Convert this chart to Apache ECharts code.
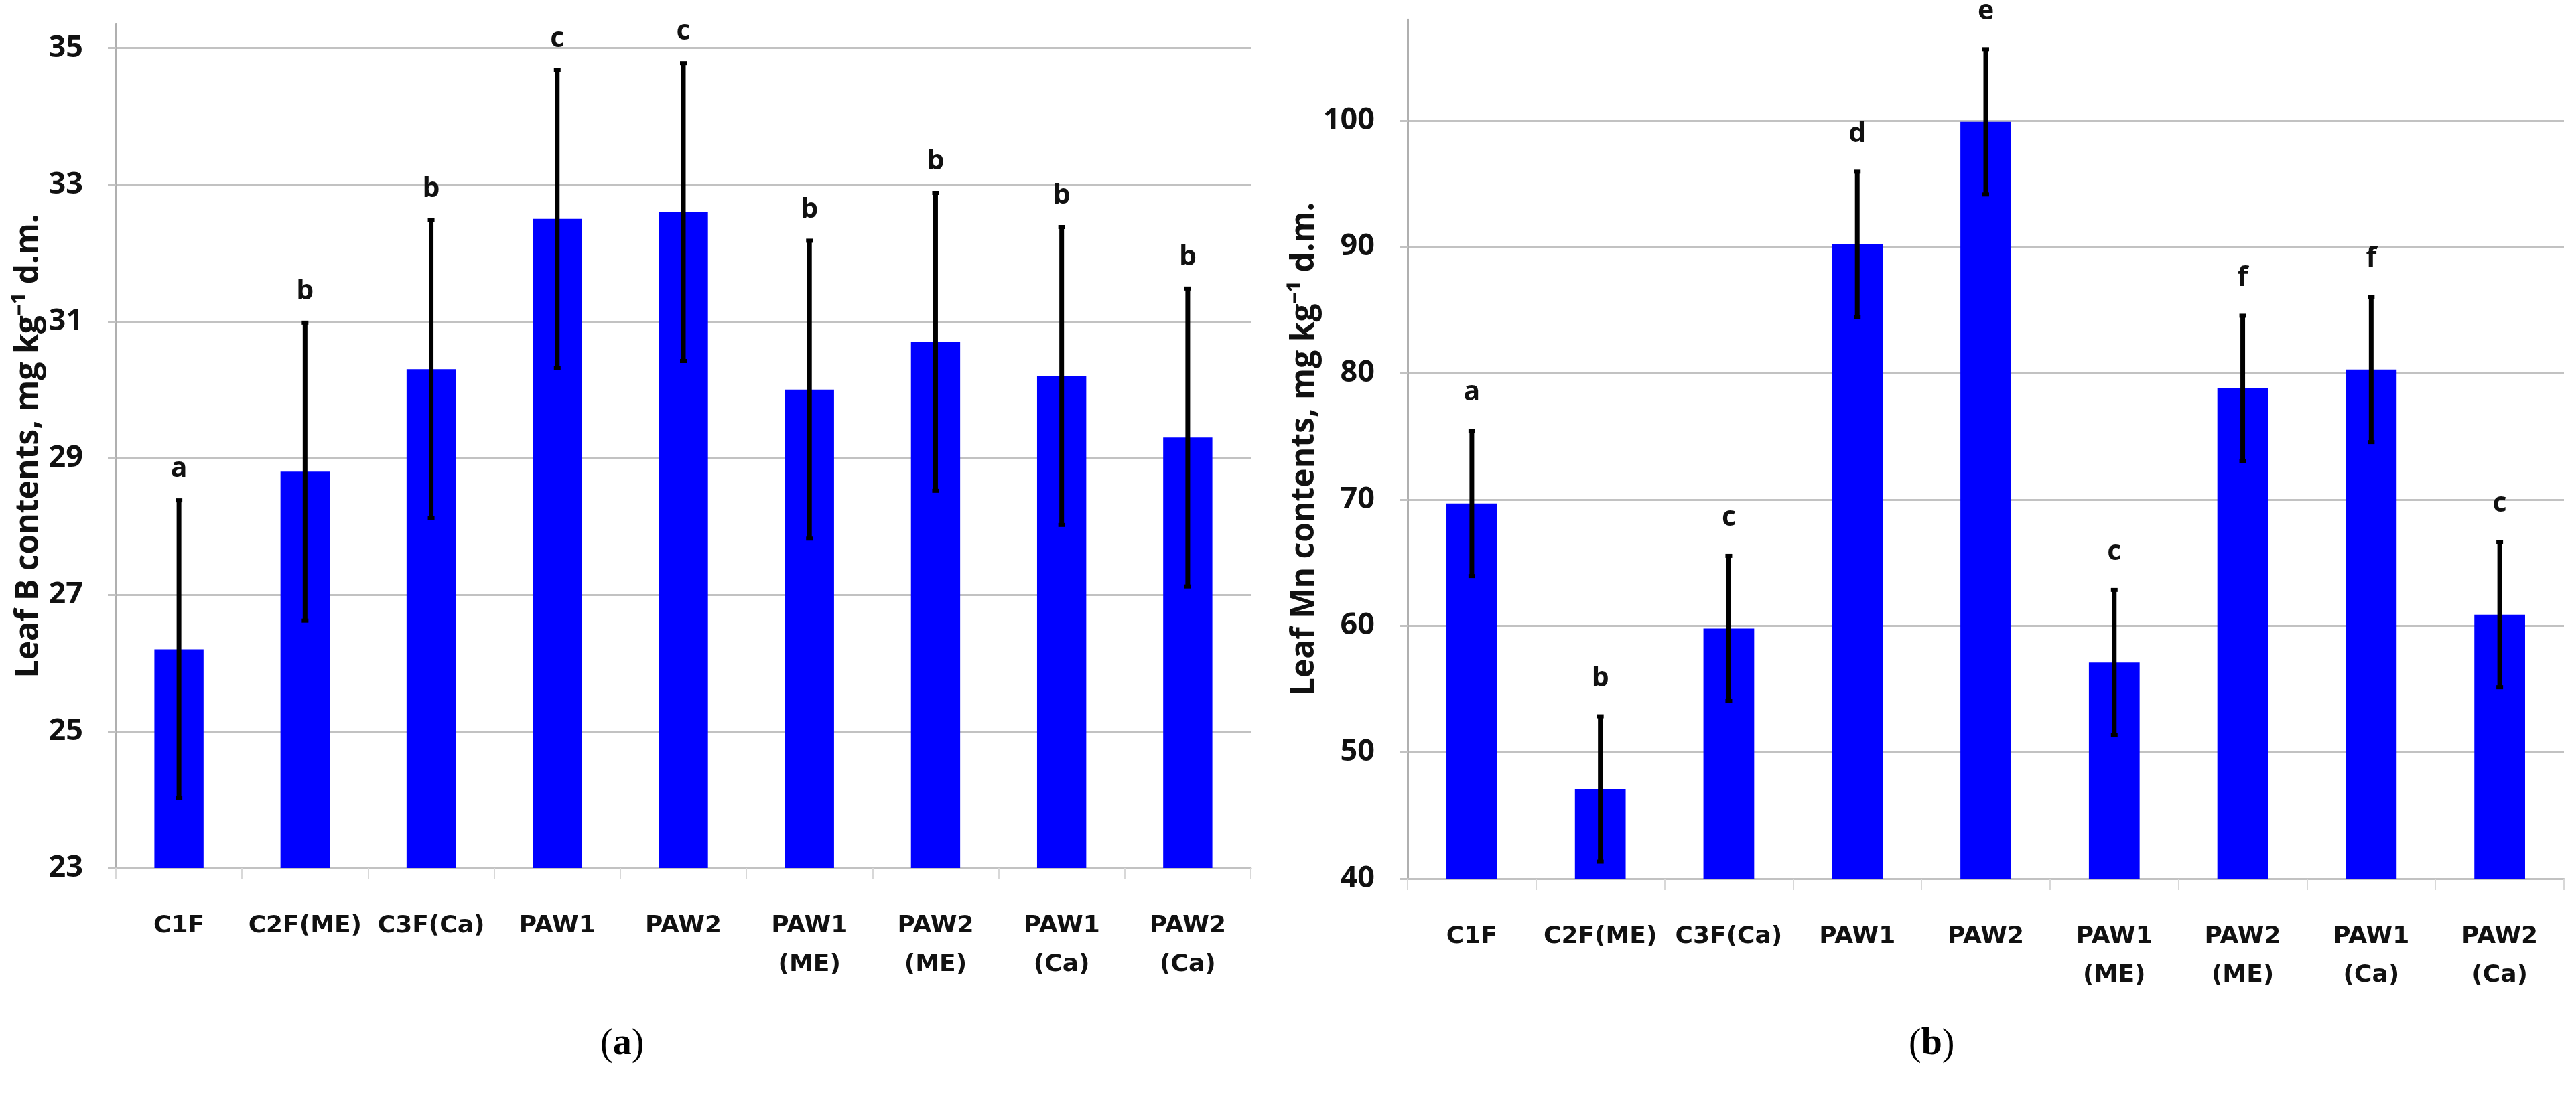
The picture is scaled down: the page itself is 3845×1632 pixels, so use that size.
<!DOCTYPE html>
<html>
<head>
<meta charset="utf-8">
<script src="https://cdn.jsdelivr.net/npm/echarts@6/dist/echarts.min.js"></script>
<style>
html,body{margin:0;padding:0;background:#fff;}
#c{width:3845px;height:1632px;}
</style>
</head>
<body>
<div id="c"></div>
<script>
// ---- data ----
const categories = ['C1F', 'C2F(ME)', 'C3F(Ca)', 'PAW1', 'PAW2', 'PAW1\n(ME)', 'PAW2\n(ME)', 'PAW1\n(Ca)', 'PAW2\n(Ca)'];
const leafB = [26.2, 28.8, 30.3, 32.5, 32.6, 30.0, 30.7, 30.2, 29.3];
const leafBErr = [2.18, 2.18, 2.18, 2.18, 2.18, 2.18, 2.18, 2.18, 2.18];
const leafBLetters = ['a', 'b', 'b', 'c', 'c', 'b', 'b', 'b', 'b'];
const leafMn = [69.7, 47.1, 59.8, 90.2, 99.9, 57.1, 78.8, 80.3, 60.9];
const leafMnErr = [5.75, 5.75, 5.75, 5.75, 5.75, 5.75, 5.75, 5.75, 5.75];
const leafMnLetters = ['a', 'b', 'c', 'd', 'e', 'c', 'f', 'f', 'c'];
const bTicks = [23, 25, 27, 29, 31, 33, 35];
const mnTicks = [40, 50, 60, 70, 80, 90, 100];

const LBL = 'Open Sans';
const CAT = 'DejaVu Sans';
const gridGrey = '#c2c2c2';

function errSeries(axisIdx, means, errs, letters, gap) {
  return {
    type: 'custom',
    xAxisIndex: axisIdx, yAxisIndex: axisIdx,
    clip: false,
    z: 5,
    data: means.map((m, i) => [i, m, errs[i]]),
    renderItem: function (params, api) {
      const i = api.value(0), v = api.value(1), e = api.value(2);
      const top = api.coord([i, v + e]);
      const bot = api.coord([i, v - e]);
      const cap = 5;
      return {
        type: 'group',
        children: [
          {type: 'line', shape: {x1: top[0], y1: top[1], x2: bot[0], y2: bot[1]}, style: {stroke: '#000', lineWidth: 7}},
          {type: 'line', shape: {x1: top[0] - cap, y1: top[1], x2: top[0] + cap, y2: top[1]}, style: {stroke: '#000', lineWidth: 6}},
          {type: 'line', shape: {x1: bot[0] - cap, y1: bot[1], x2: bot[0] + cap, y2: bot[1]}, style: {stroke: '#000', lineWidth: 6}},
          {type: 'text', style: {text: letters[i], x: top[0], y: top[1] - gap, align: 'center', verticalAlign: 'bottom',
            fontFamily: LBL, fontWeight: 'bold', fontSize: 41, fill: '#111'}}
        ]
      };
    }
  };
}

function yAxisCfg(idx, min, max, ticks, name, gap) {
  return {
    gridIndex: idx, type: 'value', min: min, max: max, interval: ticks[1] - ticks[0],
    name: name, nameLocation: 'middle', nameGap: gap, nameRotate: 90,
    nameTextStyle: {fontFamily: LBL, fontWeight: 'bold', fontSize: 48, color: '#111'},
    axisLine: {show: true, lineStyle: {color: '#b0b0b0', width: 3}},
    axisTick: {show: true, length: 12, lineStyle: {color: gridGrey, width: 3}, customValues: ticks},
    axisLabel: {fontFamily: LBL, fontWeight: 'bold', fontSize: 45, color: '#111', margin: 49, customValues: ticks},
    splitLine: {show: true, lineStyle: {color: gridGrey, width: 3}}
  };
}

function xAxisCfg(idx) {
  return {
    gridIndex: idx, type: 'category', data: categories,
    axisLine: {show: true, lineStyle: {color: gridGrey, width: 3}},
    axisTick: {show: true, length: 17, lineStyle: {color: '#d8d8d8', width: 2}},
    axisLabel: {fontFamily: CAT, fontWeight: 'bold', fontSize: 36, lineHeight: 58, color: '#111', margin: 58, interval: 0}
  };
}

const chart = echarts.init(document.getElementById('c'), null, {renderer: 'canvas'});
chart.setOption({
  backgroundColor: '#fff',
  animation: false,
  grid: [
    {left: 173, right: 1978, top: 36, bottom: 336},
    {left: 2101, right: 18, top: 29, bottom: 320}
  ],
  xAxis: [xAxisCfg(0), xAxisCfg(1)],
  yAxis: [
    yAxisCfg(0, 23, 35.35, bTicks, 'Leaf B contents, mg kg\u207B\u00B9 d.m.', 106),
    yAxisCfg(1, 40, 108, mnTicks, 'Leaf Mn contents, mg kg\u207B\u00B9 d.m.', 110)
  ],
  series: [
    {type: 'bar', xAxisIndex: 0, yAxisIndex: 0, data: leafB, barWidth: '39%', itemStyle: {color: '#0000ff'}},
    {type: 'bar', xAxisIndex: 1, yAxisIndex: 1, data: leafMn, barWidth: '39.5%', itemStyle: {color: '#0000ff'}},
    errSeries(0, leafB, leafBErr, leafBLetters, 26),
    errSeries(1, leafMn, leafMnErr, leafMnLetters, 36)
  ],
  graphic: [
    {type: 'text', left: 936 - 40, top: 1532, style: {
      text: '({b|a})', fontFamily: 'Liberation Serif', fontSize: 56, fill: '#000',
      rich: {b: {fontFamily: 'Liberation Serif', fontSize: 56, fontWeight: 'bold', fill: '#000'}}}},
    {type: 'text', left: 2889 - 40, top: 1532, style: {
      text: '({b|b})', fontFamily: 'Liberation Serif', fontSize: 56, fill: '#000',
      rich: {b: {fontFamily: 'Liberation Serif', fontSize: 56, fontWeight: 'bold', fill: '#000'}}}}
  ]
});
</script>
</body>
</html>
